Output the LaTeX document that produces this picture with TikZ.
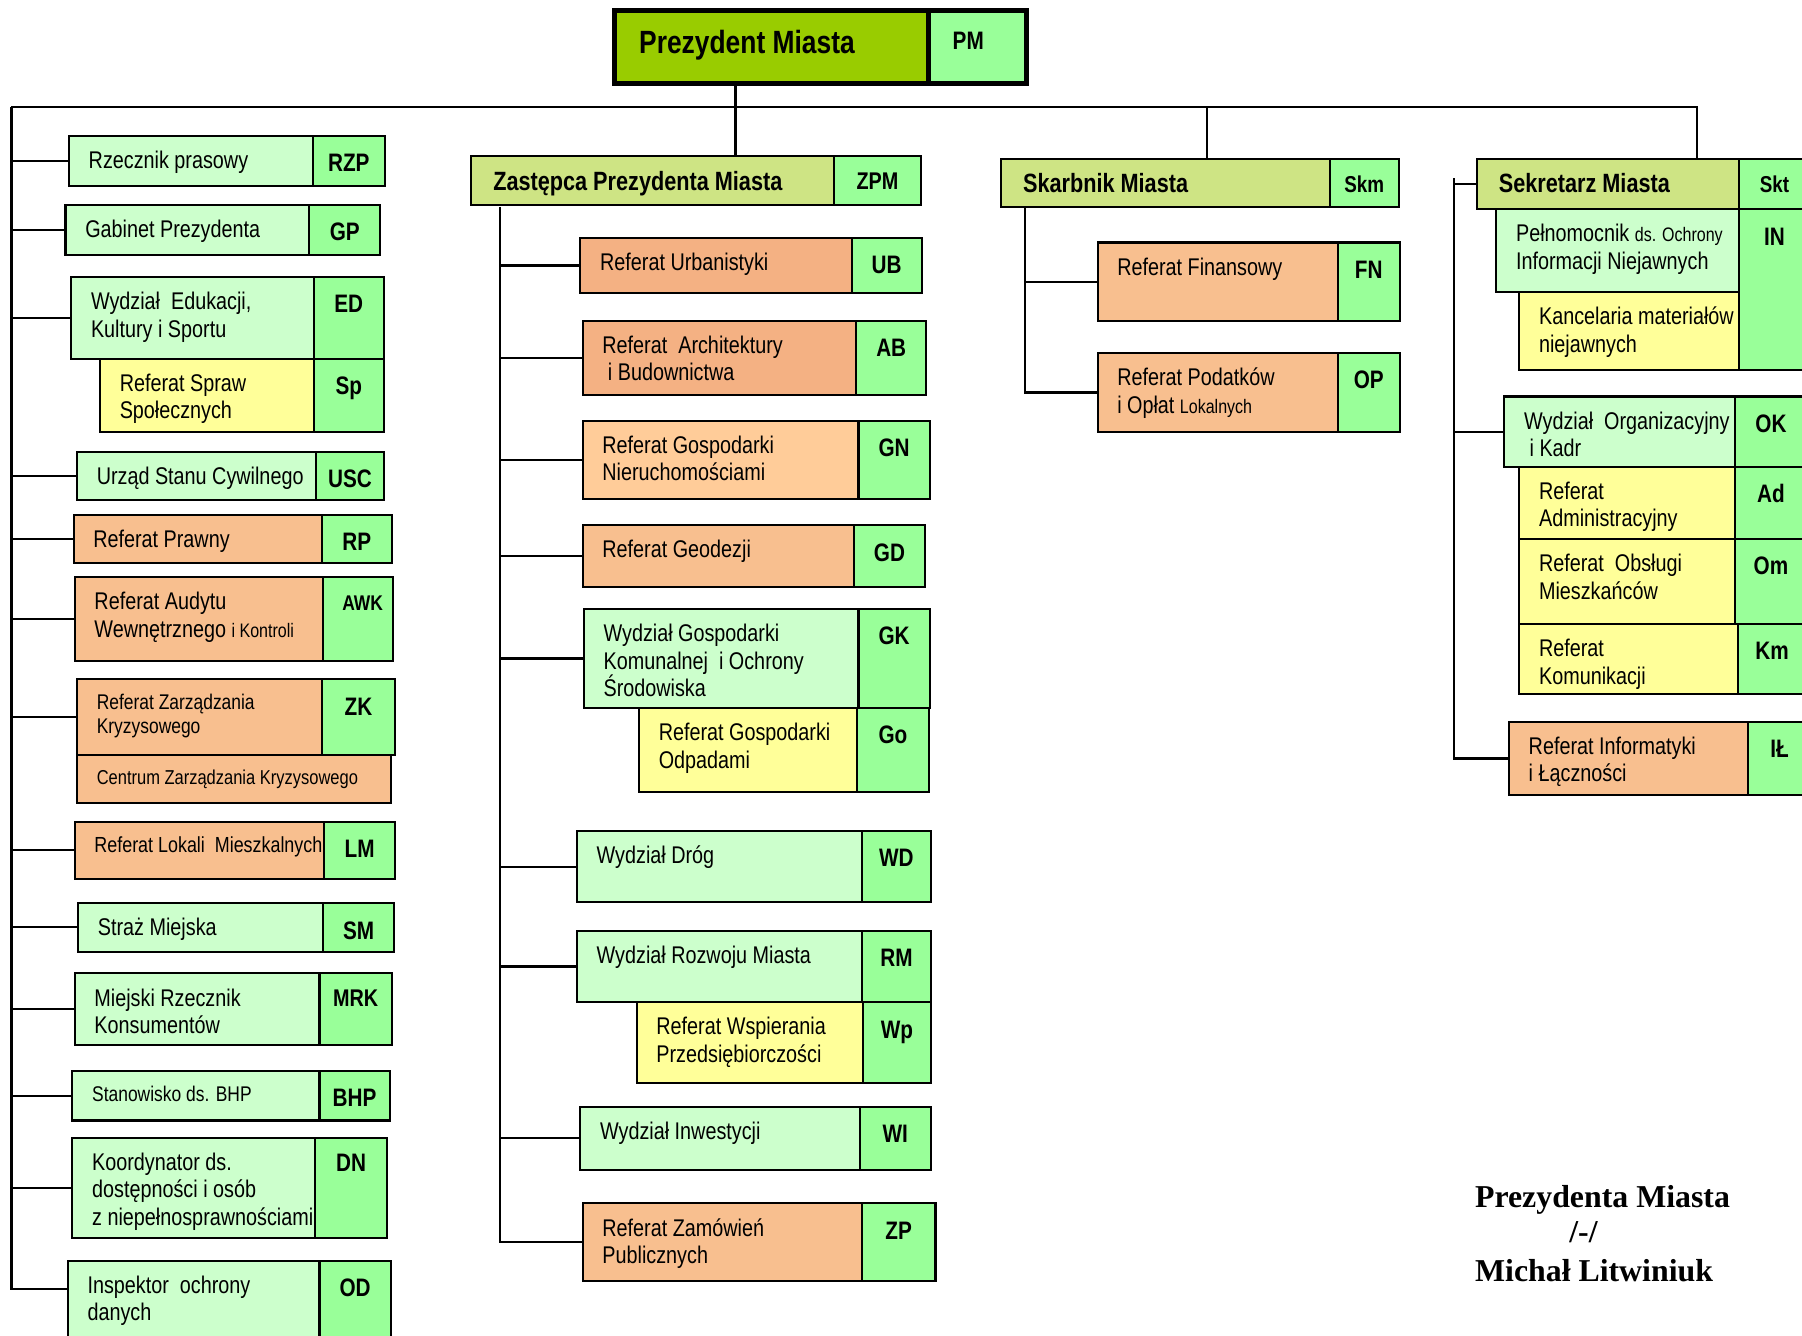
\documentclass[tikz,border=0pt]{standalone}
\usepackage{fontspec}
\setmainfont[FakeStretch=0.82]{Liberation Sans}
\newfontfamily\signfont{Liberation Serif}
\definecolor{pmgreen}{RGB}{153,204,0}
\definecolor{codegreen}{RGB}{153,255,153}
\definecolor{palegreen}{RGB}{204,255,204}
\definecolor{headolive}{RGB}{206,228,132}
\definecolor{refdark}{RGB}{244,177,131}
\definecolor{refmid}{RGB}{248,191,143}
\definecolor{refpale}{RGB}{255,204,153}
\definecolor{paleyellow}{RGB}{255,255,153}
\tikzset{
  cell/.style={rectangle, draw=black, line width=1.8pt, anchor=north west, inner sep=0pt, outer sep=0pt},
  codecell/.style={cell, fill=codegreen},
  txt/.style={anchor=north west, align=left, inner xsep=17pt, inner ysep=13pt, font=\fontsize{21}{24}\selectfont},
  headtxt/.style={txt, inner xsep=19pt, font=\bfseries\fontsize{23}{27}\selectfont},
  codetxt/.style={anchor=north, inner xsep=0pt, inner ysep=15pt, text height=16pt, font=\bfseries\fontsize{22}{26}\selectfont},
  link/.style={line width=1.8pt}
}

\begin{document}
\begin{tikzpicture}[x=1pt,y=-1pt]
\useasboundingbox (0,0) rectangle (1568,1162);

% Prezydent and his deputies
\node[cell, line width=4.5pt, fill=pmgreen, minimum width=273pt, minimum height=64pt] (pm) at (535,9) {};
\node[cell, line width=4.5pt, fill=codegreen, minimum width=85pt, minimum height=64pt] (pmc) at (pm.north east) {};
\node[headtxt, inner xsep=21pt, inner ysep=17pt, font=\bfseries\fontsize{28}{32}\selectfont] (pmt) at (pm.north west) {Prezydent Miasta};
\node[codetxt, inner ysep=18pt] (pml) at ([xshift=-8pt]pmc.north) {PM};

\node[cell, fill=headolive, minimum width=316pt, minimum height=42pt] (zpm) at (410,136) {};
\node[codecell, minimum width=75pt, minimum height=42pt] (zpmc) at (zpm.north east) {};
\node[headtxt] (zpmt) at (zpm.north west) {Zastępca Prezydenta Miasta};
\node[codetxt, inner ysep=13pt, font=\bfseries\fontsize{21}{25}\selectfont] (zpml) at (zpmc.north) {ZPM};

\node[cell, fill=headolive, minimum width=286pt, minimum height=42pt] (skm) at (871,138) {};
\node[codecell, minimum width=60pt, minimum height=42pt] (skmc) at (skm.north east) {};
\node[headtxt] (skmt) at (skm.north west) {Skarbnik Miasta};
\node[codetxt, inner ysep=13pt, font=\bfseries\fontsize{20}{24}\selectfont] (skml) at (skmc.north) {Skm};

\node[cell, fill=headolive, minimum width=228pt, minimum height=44pt] (skt) at (1285,138) {};
\node[codecell, minimum width=62pt, minimum height=44pt] (sktc) at (skt.north east) {};
\node[headtxt] (sktt) at (skt.north west) {Sekretarz Miasta};
\node[codetxt, inner ysep=13pt, font=\bfseries\fontsize{20}{24}\selectfont] (sktl) at (sktc.north) {Skt};

% left column
\node[cell, fill=palegreen, minimum width=212pt, minimum height=44pt] (rzp) at (60,118) {};
\node[codecell, minimum width=63pt, minimum height=44pt] (rzpc) at (rzp.north east) {};
\node[txt] (rzpt) at (rzp.north west) {Rzecznik prasowy};
\node[codetxt] (rzpl) at (rzpc.north) {RZP};

\node[cell, fill=palegreen, minimum width=212pt, minimum height=44pt] (gp) at (57,178) {};
\node[codecell, minimum width=62pt, minimum height=44pt] (gpc) at (gp.north east) {};
\node[txt] (gpt) at (gp.north west) {Gabinet Prezydenta};
\node[codetxt] (gpl) at (gpc.north) {GP};

\node[cell, fill=palegreen, minimum width=211pt, minimum height=71pt] (ed) at (62,241) {};
\node[codecell, minimum width=61pt, minimum height=71pt] (edc) at (ed.north east) {};
\node[txt] (edt) at (ed.north west) {Wydział\ \ Edukacji,\\Kultury i Sportu};
\node[codetxt] (edl) at (edc.north) {ED};

\node[cell, fill=paleyellow, minimum width=186pt, minimum height=64pt] (sp) at (87,312) {};
\node[codecell, minimum width=61pt, minimum height=64pt] (spc) at (sp.north east) {};
\node[txt] (spt) at (sp.north west) {Referat Spraw\\Społecznych};
\node[codetxt] (spl) at (spc.north) {Sp};

\node[cell, fill=palegreen, minimum width=208pt, minimum height=42pt] (usc) at (67,393) {};
\node[codecell, minimum width=59pt, minimum height=42pt] (uscc) at (usc.north east) {};
\node[txt] (usct) at (usc.north west) {Urząd Stanu Cywilnego};
\node[codetxt] (uscl) at (uscc.north) {USC};

\node[cell, fill=refmid, minimum width=216pt, minimum height=42pt] (rp) at (64,448) {};
\node[codecell, minimum width=61pt, minimum height=42pt] (rpc) at (rp.north east) {};
\node[txt] (rpt) at (rp.north west) {Referat Prawny};
\node[codetxt] (rpl) at (rpc.north) {RP};

\node[cell, fill=refmid, minimum width=216pt, minimum height=73pt] (awk) at (65,502) {};
\node[codecell, minimum width=61pt, minimum height=73pt] (awkc) at (awk.north east) {};
\node[txt] (awkt) at (awk.north west) {Referat Audytu\\Wewnętrznego {\fontsize{17}{24}\selectfont i Kontroli}};
\node[codetxt, inner ysep=13pt, font=\bfseries\fontsize{18.5}{22}\selectfont] (awkl) at ([xshift=4pt]awkc.north) {AWK};

\node[cell, fill=refmid, minimum width=213pt, minimum height=66pt] (zk) at (67,591) {};
\node[codecell, minimum width=64pt, minimum height=66pt] (zkc) at (zk.north east) {};
\node[txt, font=\fontsize{18.5}{21}\selectfont] (zkt) at (zk.north west) {Referat Zarządzania\\Kryzysowego};
\node[codetxt] (zkl) at (zkc.north) {ZK};

\node[cell, fill=refmid, minimum width=273pt, minimum height=42pt] (czk) at (67,657) {};
\node[txt, font=\fontsize{17.5}{21}\selectfont] (czkt) at (czk.north west) {Centrum Zarządzania Kryzysowego};

\node[cell, fill=refmid, minimum width=217pt, minimum height=50pt] (lm) at (65,715) {};
\node[codecell, minimum width=62pt, minimum height=50pt] (lmc) at (lm.north east) {};
\node[txt, font=\fontsize{19}{22}\selectfont] (lmt) at (lm.north west) {Referat Lokali\ \ Mieszkalnych};
\node[codetxt] (lml) at (lmc.north) {LM};

\node[cell, fill=palegreen, minimum width=213pt, minimum height=42pt] (sm) at (68,786) {};
\node[codecell, minimum width=62pt, minimum height=42pt] (smc) at (sm.north east) {};
\node[txt] (smt) at (sm.north west) {Straż Miejska};
\node[codetxt] (sml) at (smc.north) {SM};

\node[cell, fill=palegreen, minimum width=213pt, minimum height=62pt] (mrk) at (65,847) {};
\node[codecell, minimum width=63pt, minimum height=62pt] (mrkc) at (mrk.north east) {};
\node[txt] (mrkt) at (mrk.north west) {Miejski Rzecznik\\Konsumentów};
\node[codetxt, inner ysep=13pt, font=\bfseries\fontsize{21}{25}\selectfont] (mrkl) at (mrkc.north) {MRK};

\node[cell, fill=palegreen, minimum width=215pt, minimum height=43pt] (bhp) at (63,932) {};
\node[codecell, minimum width=61pt, minimum height=43pt] (bhpc) at (bhp.north east) {};
\node[txt, font=\fontsize{18.5}{22}\selectfont] (bhpt) at (bhp.north west) {Stanowisko ds. BHP};
\node[codetxt] (bhpl) at (bhpc.north) {BHP};

\node[cell, fill=palegreen, minimum width=211pt, minimum height=87pt] (dn) at (63,990) {};
\node[codecell, minimum width=63pt, minimum height=87pt] (dnc) at (dn.north east) {};
\node[txt] (dnt) at (dn.north west) {Koordynator ds.\\dostępności i osób\\z niepełnosprawnościami};
\node[codetxt, inner ysep=13pt] (dnl) at (dnc.north) {DN};

\node[cell, fill=palegreen, minimum width=219pt, minimum height=80pt] (od) at (59,1097) {};
\node[codecell, minimum width=62pt, minimum height=80pt] (odc) at (od.north east) {};
\node[txt] (odt) at (od.north west) {Inspektor\ \ ochrony\\danych};
\node[codetxt] (odl) at (odc.north) {OD};

% middle column
\node[cell, fill=refdark, minimum width=236pt, minimum height=48pt] (ub) at (505,207) {};
\node[codecell, minimum width=61pt, minimum height=48pt] (ubc) at (ub.north east) {};
\node[txt] (ubt) at (ub.north west) {Referat Urbanistyki};
\node[codetxt] (ubl) at (ubc.north) {UB};

\node[cell, fill=refdark, minimum width=238pt, minimum height=65pt] (ab) at (507,279) {};
\node[codecell, minimum width=61pt, minimum height=65pt] (abc) at (ab.north east) {};
\node[txt] (abt) at (ab.north west) {Referat\ \ Architektury\\\ i Budownictwa};
\node[codetxt] (abl) at (abc.north) {AB};

\node[cell, fill=refpale, minimum width=240pt, minimum height=68pt] (gn) at (507,366) {};
\node[codecell, minimum width=62pt, minimum height=68pt] (gnc) at (gn.north east) {};
\node[txt] (gnt) at (gn.north west) {Referat Gospodarki\\Nieruchomościami};
\node[codetxt] (gnl) at (gnc.north) {GN};

\node[cell, fill=refmid, minimum width=236pt, minimum height=54pt] (gd) at (507,457) {};
\node[codecell, minimum width=62pt, minimum height=54pt] (gdc) at (gd.north east) {};
\node[txt] (gdt) at (gd.north west) {Referat Geodezji};
\node[codetxt] (gdl) at (gdc.north) {GD};

\node[cell, fill=palegreen, minimum width=239pt, minimum height=86pt] (gk) at (508,530) {};
\node[codecell, minimum width=62pt, minimum height=86pt] (gkc) at (gk.north east) {};
\node[txt] (gkt) at (gk.north west) {Wydział Gospodarki\\Komunalnej\ \ i Ochrony\\Środowiska};
\node[codetxt] (gkl) at (gkc.north) {GK};

\node[cell, fill=paleyellow, minimum width=190pt, minimum height=73pt] (go) at (556,616) {};
\node[codecell, minimum width=62pt, minimum height=73pt] (goc) at (go.north east) {};
\node[txt] (got) at (go.north west) {Referat Gospodarki\\Odpadami};
\node[codetxt] (gol) at (goc.north) {Go};

\node[cell, fill=palegreen, minimum width=248pt, minimum height=62pt] (wd) at (502,723) {};
\node[codecell, minimum width=60pt, minimum height=62pt] (wdc) at (wd.north east) {};
\node[txt] (wdt) at (wd.north west) {Wydział Dróg};
\node[codetxt] (wdl) at (wdc.north) {WD};

\node[cell, fill=palegreen, minimum width=248pt, minimum height=62pt] (rm) at (502,810) {};
\node[codecell, minimum width=60pt, minimum height=62pt] (rmc) at (rm.north east) {};
\node[txt] (rmt) at (rm.north west) {Wydział Rozwoju Miasta};
\node[codetxt] (rml) at (rmc.north) {RM};

\node[cell, fill=paleyellow, minimum width=197pt, minimum height=70pt] (wp) at (554,872) {};
\node[codecell, minimum width=59pt, minimum height=70pt] (wpc) at (wp.north east) {};
\node[txt] (wpt) at (wp.north west) {Referat Wspierania\\Przedsiębiorczości};
\node[codetxt] (wpl) at (wpc.north) {Wp};

\node[cell, fill=palegreen, minimum width=243pt, minimum height=55pt] (wi) at (505,963) {};
\node[codecell, minimum width=62pt, minimum height=55pt] (wic) at (wi.north east) {};
\node[txt] (wit) at (wi.north west) {Wydział Inwestycji};
\node[codetxt] (wil) at (wic.north) {WI};

\node[cell, fill=refmid, minimum width=243pt, minimum height=68pt] (zp) at (507,1047) {};
\node[codecell, minimum width=64pt, minimum height=68pt] (zpc) at (zp.north east) {};
\node[txt] (zpt) at (zp.north west) {Referat Zamówień\\Publicznych};
\node[codetxt] (zpl) at (zpc.north) {ZP};

% Skarbnik column
\node[cell, fill=refmid, minimum width=209pt, minimum height=68pt] (fn) at (955,211) {};
\node[codecell, minimum width=54pt, minimum height=68pt] (fnc) at (fn.north east) {};
\node[txt] (fnt) at (fn.north west) {Referat Finansowy};
\node[codetxt] (fnl) at (fnc.north) {FN};

\node[cell, fill=refmid, minimum width=209pt, minimum height=69pt] (op) at (955,307) {};
\node[codecell, minimum width=54pt, minimum height=69pt] (opc) at (op.north east) {};
\node[txt] (opt) at (op.north west) {Referat Podatków\\i Opłat {\fontsize{17}{24}\selectfont Lokalnych}};
\node[codetxt] (opl) at (opc.north) {OP};

% Sekretarz column
\node[cell, fill=palegreen, minimum width=211pt, minimum height=72pt] (in) at (1302,182) {};
\node[codecell, minimum width=62pt, minimum height=140pt] (inc) at (in.north east) {};
\node[txt] (intx) at (in.north west) {Pełnomocnik {\fontsize{17}{24}\selectfont ds. Ochrony}\\Informacji Niejawnych};
\node[codetxt] (inl) at (inc.north) {IN};

\node[cell, fill=paleyellow, minimum width=191pt, minimum height=68pt] (kmn) at (1322,254) {};
\node[txt] (kmnt) at (kmn.north west) {Kancelaria materiałów\\niejawnych};

\node[cell, fill=palegreen, minimum width=201pt, minimum height=61pt] (ok) at (1309,345) {};
\node[codecell, minimum width=62pt, minimum height=61pt] (okc) at (ok.north east) {};
\node[txt] (okt) at (ok.north west) {Wydział\ \ Organizacyjny\\\ i Kadr};
\node[codetxt] (okl) at (okc.north) {OK};

\node[cell, fill=paleyellow, minimum width=188pt, minimum height=63pt] (ad) at (1322,406) {};
\node[codecell, minimum width=62pt, minimum height=63pt] (adc) at (ad.north east) {};
\node[txt] (adt) at (ad.north west) {Referat\\Administracyjny};
\node[codetxt] (adl) at (adc.north) {Ad};

\node[cell, fill=paleyellow, minimum width=188pt, minimum height=74pt] (om) at (1322,469) {};
\node[codecell, minimum width=62pt, minimum height=74pt] (omc) at (om.north east) {};
\node[txt] (omt) at (om.north west) {Referat\ \ Obsługi\\Mieszkańców};
\node[codetxt] (oml) at (omc.north) {Om};

\node[cell, fill=paleyellow, minimum width=190pt, minimum height=61pt] (km) at (1322,543) {};
\node[codecell, minimum width=60pt, minimum height=61pt] (kmc) at (km.north east) {};
\node[txt] (kmt) at (km.north west) {Referat\\Komunikacji};
\node[codetxt] (kml) at (kmc.north) {Km};

\node[cell, fill=refmid, minimum width=208pt, minimum height=64pt] (il) at (1313,628) {};
\node[codecell, minimum width=55pt, minimum height=64pt] (ilc) at (il.north east) {};
\node[txt] (ilt) at (il.north west) {Referat Informatyki\\i Łączności};
\node[codetxt] (ill) at (ilc.north) {IŁ};

% connectors
\coordinate (lt) at (10,93);
\coordinate (bz) at (640,93);
\coordinate (bs) at (1050,93);
\coordinate (bk) at (1477,93);
\coordinate (zt) at (435,180);
\coordinate (st) at (892,180);
\coordinate (kt) at (1265,155);

\draw[link] (lt) -- (bk) -- (bk |- skt.north);
\draw[link] (bz |- pm.south) -- (bz |- zpm.north);
\draw[link] (bs) -- (bs |- skm.north);

\draw[link] (lt) |- ([yshift=-25pt]od.north west);
\draw[link] (rzp.west) -- (rzp.west -| lt);
\draw[link] (gp.west) -- (gp.west -| lt);
\draw[link] (ed.west) -- (ed.west -| lt);
\draw[link] (usc.west) -- (usc.west -| lt);
\draw[link] (rp.west) -- (rp.west -| lt);
\draw[link] (awk.west) -- (awk.west -| lt);
\draw[link] (zk.west) -- (zk.west -| lt);
\draw[link] (lm.west) -- (lm.west -| lt);
\draw[link] (sm.west) -- (sm.west -| lt);
\draw[link] (mrk.west) -- (mrk.west -| lt);
\draw[link] (bhp.west) -- (bhp.west -| lt);
\draw[link] (dn.west) -- (dn.west -| lt);

\draw[link] (zt) |- (zp.west);
\draw[link] (ub.west) -- (ub.west -| zt);
\draw[link] (ab.west) -- (ab.west -| zt);
\draw[link] (gn.west) -- (gn.west -| zt);
\draw[link] (gd.west) -- (gd.west -| zt);
\draw[link] (gk.west) -- (gk.west -| zt);
\draw[link] (wd.west) -- (wd.west -| zt);
\draw[link] (rm.west) -- (rm.west -| zt);
\draw[link] (wi.west) -- (wi.west -| zt);

\draw[link] (st) |- (op.west);
\draw[link] (fn.west) -- (fn.west -| st);

\draw[link] (skt.west) -| (kt) |- (il.west);
\draw[link] (ok.west) -- (ok.west -| kt);

% signature
\node[anchor=base west, font=\signfont\bfseries\fontsize{27.7}{32}\selectfont] (sig1) at (1280,1051) {Prezydenta Miasta};
\node[anchor=base west, font=\signfont\bfseries\fontsize{27.7}{32}\selectfont] (sig2) at (1362,1081) {/-/};
\node[anchor=base west, font=\signfont\bfseries\fontsize{27.7}{32}\selectfont] (sig3) at (1280,1115) {Michał Litwiniuk};
\end{tikzpicture}
\end{document}
